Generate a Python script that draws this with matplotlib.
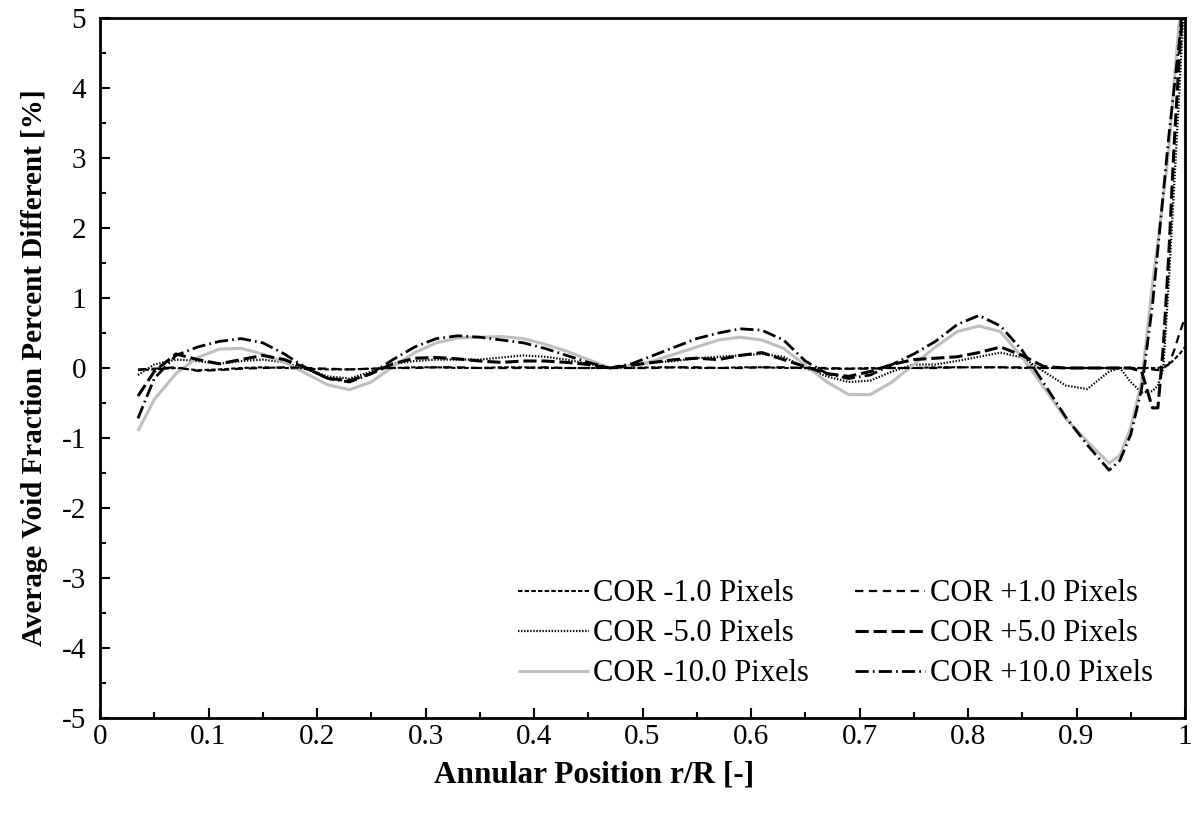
import matplotlib
matplotlib.use("Agg")
import matplotlib.pyplot as plt
from matplotlib.ticker import MultipleLocator, FuncFormatter

plt.rcParams['font.family'] = ['Liberation Serif', 'DejaVu Serif']
plt.rcParams['axes.unicode_minus'] = False
plt.rcParams['lines.scale_dashes'] = False

# Radial positions shared by every series
r_pos = [0.035, 0.05, 0.07, 0.09, 0.11, 0.13, 0.15, 0.17, 0.19, 0.21,
         0.23, 0.25, 0.27, 0.29, 0.31, 0.33, 0.35, 0.37, 0.39, 0.41,
         0.43, 0.45, 0.47, 0.49, 0.51, 0.53, 0.55, 0.57, 0.59, 0.61,
         0.63, 0.65, 0.67, 0.69, 0.71, 0.73, 0.75, 0.77, 0.79, 0.81,
         0.83, 0.85, 0.87, 0.89, 0.91, 0.93, 0.94, 0.95, 0.96, 0.97,
         0.975, 0.98, 0.985, 0.99, 0.995, 1.0]

cor_m1 = [-0.03, -0.02, 0.0, -0.03, -0.02, 0.0, 0.01, 0.0, -0.01, -0.02,
          -0.02, -0.01, 0.0, 0.01, 0.01, 0.0, 0.0, 0.01, 0.01, 0.0,
          0.0, 0.0, 0.0, 0.0, 0.01, 0.01, 0.0, 0.0, 0.01, 0.01,
          0.0, 0.0, -0.01, -0.01, 0.0, 0.0, 0.0, 0.01, 0.01, 0.01,
          0.01, 0.0, 0.0, 0.0, 0.0, 0.0, 0.0, 0.0, 0.0, 0.0,
          0.0, 0.02, 0.05, 0.12, 0.2, 0.3]
cor_p1 = [-0.02, -0.01, 0.01, -0.04, -0.03, -0.01, 0.0, 0.01, 0.0, -0.01,
          -0.02, -0.01, 0.0, 0.0, 0.01, 0.01, 0.0, 0.0, 0.0, 0.01,
          0.0, 0.0, 0.0, 0.0, 0.0, 0.01, 0.01, 0.0, 0.0, 0.01,
          0.01, 0.0, 0.0, -0.01, -0.01, 0.0, 0.0, 0.0, 0.01, 0.01,
          0.01, 0.01, 0.0, 0.0, 0.0, 0.0, 0.0, 0.0, 0.0, -0.02,
          -0.03, 0.0, 0.05, 0.25, 0.5, 0.72]
cor_m5 = [-0.1, 0.05, 0.12, 0.1, 0.06, 0.1, 0.12, 0.08, -0.02, -0.12,
          -0.15, -0.05, 0.06, 0.1, 0.12, 0.12, 0.12, 0.15, 0.18, 0.16,
          0.12, 0.06, 0.0, 0.04, 0.08, 0.1, 0.14, 0.16, 0.18, 0.2,
          0.16, 0.0, -0.12, -0.2, -0.18, -0.05, 0.05, 0.05, 0.1, 0.16,
          0.22, 0.15, -0.05, -0.25, -0.3, -0.05, 0.0, -0.2, -0.35, -0.33,
          -0.25, 0.0, 1.2, 2.6, 4.0, 5.5]
cor_p5 = [-0.4, -0.05, 0.2, 0.12, 0.06, 0.12, 0.18, 0.12, 0.0, -0.15,
          -0.18, -0.08, 0.06, 0.14, 0.15, 0.13, 0.1, 0.08, 0.1, 0.1,
          0.08, 0.05, 0.0, 0.04, 0.08, 0.12, 0.14, 0.12, 0.18, 0.22,
          0.12, 0.02, -0.08, -0.12, -0.05, 0.05, 0.12, 0.14, 0.16, 0.22,
          0.3, 0.18, 0.02, 0.0, 0.0, 0.0, 0.0, 0.0, -0.05, -0.57,
          -0.57, 0.3, 1.6, 3.2, 4.5, 5.6]
cor_m10 = [-0.9, -0.45, -0.08, 0.15, 0.27, 0.28, 0.2, 0.08, -0.08, -0.24,
           -0.31, -0.2, 0.02, 0.22, 0.36, 0.43, 0.44, 0.45, 0.42, 0.34,
           0.24, 0.12, 0.0, 0.03, 0.1, 0.2, 0.3, 0.4, 0.44, 0.4,
           0.28, 0.04, -0.2, -0.38, -0.38, -0.2, 0.05, 0.3, 0.52, 0.6,
           0.52, 0.15, -0.28, -0.72, -1.05, -1.36, -1.25, -0.85, -0.2, 1.2,
           1.8, 2.45, 3.1, 4.1, 5.0, 6.0]
cor_p10 = [-0.72, -0.15, 0.18, 0.3, 0.38, 0.42, 0.36, 0.2, 0.0, -0.15,
           -0.2, -0.08, 0.12, 0.3, 0.42, 0.46, 0.44, 0.4, 0.36, 0.28,
           0.18, 0.08, 0.0, 0.06, 0.18, 0.3, 0.42, 0.5, 0.56, 0.54,
           0.4, 0.1, -0.08, -0.15, -0.1, 0.05, 0.2, 0.38, 0.62, 0.75,
           0.6, 0.25, -0.22, -0.7, -1.1, -1.46, -1.32, -0.95, -0.3, 0.9,
           1.7, 2.5, 3.3, 4.0, 4.7, 5.6]

fig = plt.figure(figsize=(11.96, 8.14), dpi=100)
ax = fig.add_axes([100 / 1196, 96 / 814, 1085 / 1196, 700 / 814])

series = [
    (cor_m1, 'COR -1.0 Pixels', dict(color='black', lw=1.5, dashes=(3.2, 1.6))),
    (cor_m5, 'COR -5.0 Pixels', dict(color='black', lw=1.6, dashes=(1.0, 1.2))),
    (cor_m10, 'COR -10.0 Pixels', dict(color='#BFBFBF', lw=2.2, linestyle='-')),
    (cor_p1, 'COR +1.0 Pixels', dict(color='black', lw=1.6, dashes=(6.0, 4.0))),
    (cor_p5, 'COR +5.0 Pixels', dict(color='black', lw=2.2, dashes=(9.5, 3.5))),
    (cor_p10, 'COR +10.0 Pixels', dict(color='black', lw=2.0, dashes=(9.5, 3.0, 1.2, 3.0))),
]
for vals, label, style in series:
    ax.plot(r_pos, vals, label=label, solid_capstyle='butt', dash_capstyle='butt', **style)

ax.set_xlim(0, 1)
ax.set_ylim(-5, 5)

ax.xaxis.set_major_locator(MultipleLocator(0.1))
ax.xaxis.set_minor_locator(MultipleLocator(0.05))
ax.yaxis.set_major_locator(MultipleLocator(1))
ax.yaxis.set_minor_locator(MultipleLocator(0.5))
ax.xaxis.set_major_formatter(FuncFormatter(lambda v, p: f"{v:.1f}".rstrip('0').rstrip('.') if abs(v) > 1e-9 else "0"))
ax.yaxis.set_major_formatter(FuncFormatter(lambda v, p: f"{int(round(v))}"))

ax.tick_params(which='both', direction='in', width=1.5, labelsize=21)
ax.tick_params(which='major', length=7)
ax.tick_params(which='minor', length=4)
ax.tick_params(axis='x', pad=4)
ax.tick_params(axis='y', pad=10)

for sp in ax.spines.values():
    sp.set_linewidth(2.0)
    sp.set_color('black')

# axis titles centred on the figure width / plot height
fig.text(594 / 1196, 1 - 775 / 814, 'Annular Position r/R [-]', fontsize=22.5,
         fontweight='bold', ha='center', va='center')
fig.text(35 / 1196, 1 - 368 / 814, 'Average Void Fraction Percent Different [%]',
         fontsize=21, fontweight='bold', ha='center', va='center', rotation=90)

ax.legend(ncol=2, loc='lower right', bbox_to_anchor=(0.99, 0.012), frameon=False,
          fontsize=22, handlelength=2.3, handletextpad=0.15, columnspacing=1.5,
          labelspacing=0.36, borderaxespad=0.3)

fig.savefig('out.png', dpi=100)
